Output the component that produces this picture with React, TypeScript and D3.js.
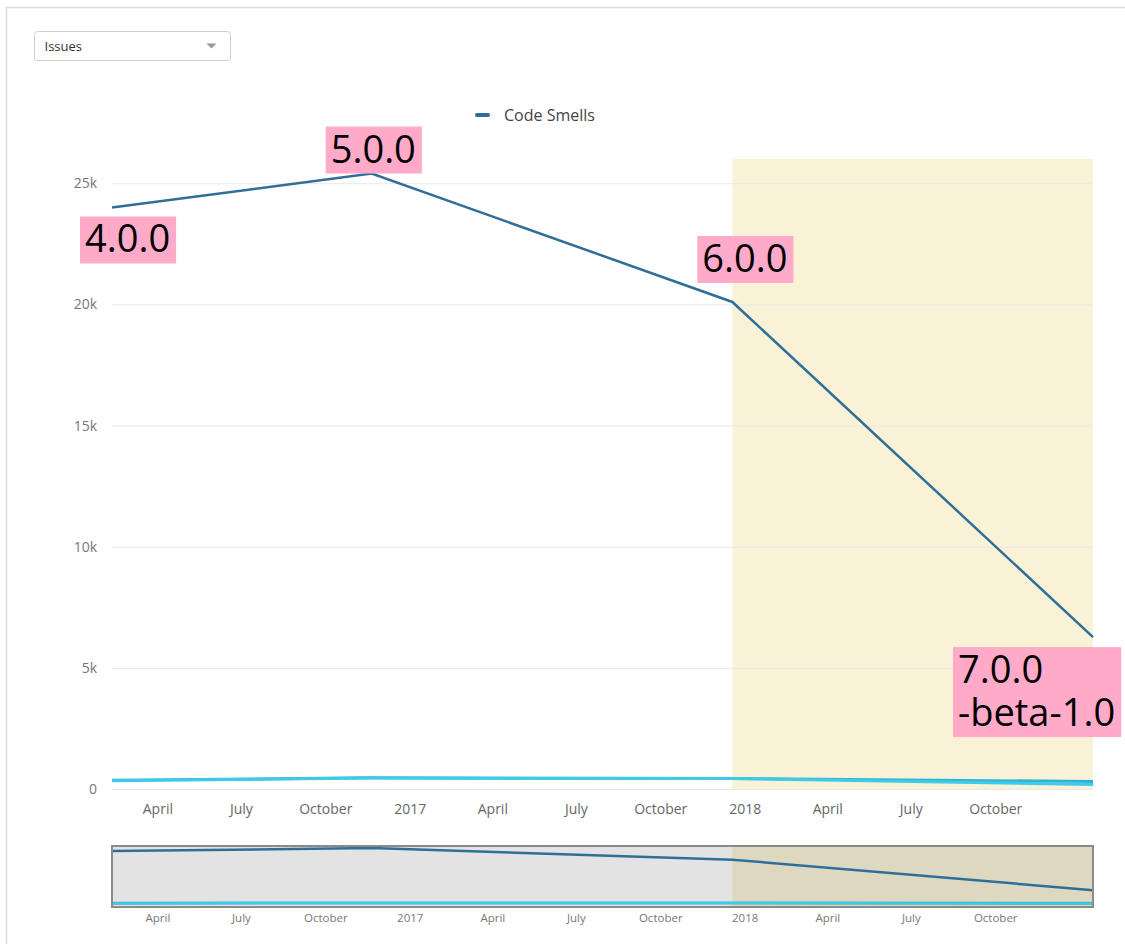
import React, { useRef, useEffect } from "react";
import * as d3 from "d3";

// analysis dates, one per release
const releaseDates = ["2016-02-11", "2016-11-20", "2017-12-18", "2019-01-15"];
const releaseNames = ["4.0.0", "5.0.0", "6.0.0", "7.0.0\n-beta-1.0"];

// issue counts per analysis
const codeSmells = [24000, 25400, 20100, 6270];
const bugs = [360, 460, 430, 310];
const vulnerabilities = [340, 450, 430, 185];

const yTicks = [0, 5000, 10000, 15000, 20000, 25000];
const yMax = 26000;
const highlightFrom = "2017-12-18";
const legendNames = ["Code Smells"];
const metricOptions = ["Issues"];

const App = () => {
    const ref = useRef<SVGSVGElement>(null);

    useEffect(() => {
        const svg = d3.select(ref.current);
        svg.selectAll("*").remove();

        const font = "'Open Sans', 'DejaVu Sans', sans-serif";
        const left = 112, right = 1093, top = 159, bottom = 789;
        const mmTop = 846, mmBottom = 907;

        const parse = d3.timeParse("%Y-%m-%d");
        const dates = releaseDates.map((d) => parse(d) as Date);

        const x = d3.scaleTime()
            .domain([dates[0], dates[dates.length - 1]])
            .range([left, right]);
        const y = d3.scaleLinear().domain([0, yMax]).range([bottom, top]);
        const yMini = d3.scaleLinear()
            .domain([0, d3.max(codeSmells) as number])
            .range([904, 848]);

        const fmt = (d: Date) => d3.timeYear(d) < d ? d3.timeFormat("%B")(d) : d3.timeFormat("%Y")(d);
        // quarterly ticks, the one that would spill past the plot edge is dropped
        const xTicks = x.ticks(d3.timeMonth.every(3) as any).filter((d) => x(d) < right - 20);

        // outer frame
        svg.append("path")
            .attr("d", `M6.5,944 V7.5 H1125`)
            .attr("fill", "none")
            .attr("stroke", "#dcdcdc")
            .attr("stroke-width", 1.5);

        // metric selector
        const dd = svg.append("g").attr("transform", "translate(34.5,31.5)");
        dd.append("rect")
            .attr("width", 196).attr("height", 29).attr("rx", 3)
            .attr("fill", "#fff").attr("stroke", "#cfcfcf");
        dd.append("text")
            .attr("x", 10).attr("y", 19)
            .style("font-family", font).style("font-size", "13px")
            .attr("fill", "#333").text(metricOptions[0]);
        dd.append("path")
            .attr("d", "M172,12 L182,12 L177,17 Z")
            .attr("fill", "#999");

        // legend
        const lg = svg.append("g").attr("transform", "translate(475,115)");
        lg.append("line")
            .attr("x1", 2).attr("x2", 13)
            .attr("stroke", "#2f6f97").attr("stroke-width", 4).attr("stroke-linecap", "round");
        lg.append("text")
            .attr("x", 29).attr("y", 6)
            .style("font-family", font).style("font-size", "16px")
            .attr("fill", "#444").text(legendNames[0]);

        // highlighted period
        const hx = x(parse(highlightFrom) as Date);
        svg.append("rect")
            .attr("x", hx).attr("y", top)
            .attr("width", right - hx).attr("height", bottom - top)
            .attr("fill", "#f9f2d7");

        // grid + y labels
        svg.append("g").selectAll("line")
            .data(yTicks).join("line")
            .attr("x1", left).attr("x2", right)
            .attr("y1", (d) => y(d) + 0.5).attr("y2", (d) => y(d) + 0.5)
            .attr("stroke", "#e8e8e8");
        svg.append("g").selectAll("text")
            .data(yTicks).join("text")
            .attr("x", 97).attr("y", (d) => y(d) + 5)
            .attr("text-anchor", "end")
            .style("font-family", font).style("font-size", "14px")
            .attr("fill", "#777")
            .text((d) => d === 0 ? "0" : d / 1000 + "k");

        // x labels
        svg.append("g").selectAll("text")
            .data(xTicks).join("text")
            .attr("x", (d) => x(d)).attr("y", 814)
            .attr("text-anchor", "middle")
            .style("font-family", font).style("font-size", "14px")
            .attr("fill", "#666")
            .text(fmt);

        const line = (yy: d3.ScaleLinear<number, number>) => d3.line<number>()
            .x((_, i) => x(dates[i]))
            .y((d) => yy(d));

        svg.append("path").datum(bugs)
            .attr("d", line(y)).attr("fill", "none")
            .attr("stroke", "#2ab4da").attr("stroke-width", 3);
        svg.append("path").datum(vulnerabilities)
            .attr("d", line(y)).attr("fill", "none")
            .attr("stroke", "#3fcbe7").attr("stroke-width", 3);
        svg.append("path").datum(codeSmells)
            .attr("d", line(y)).attr("fill", "none")
            .attr("stroke", "#2f6f97").attr("stroke-width", 2.5);

        // release annotations
        const offsets = [[-32, 9], [-46, -47], [-35, -66], [-140, 10]];
        releaseNames.forEach((name, i) => {
            const lines = name.split("\n");
            const g = svg.append("g")
                .attr("transform", `translate(${x(dates[i]) + offsets[i][0]},${y(codeSmells[i]) + offsets[i][1]})`);
            const box = g.append("rect").attr("fill", "#ffaac8");
            const t = g.append("text")
                .style("font-family", font).style("font-size", "38px")
                .attr("fill", "#000");
            lines.forEach((l, j) => {
                t.append("tspan").attr("x", 5).attr("y", 36 + j * 43).text(l);
            });
            const bb = (t.node() as SVGTextElement).getBBox();
            box.attr("width", bb.width + 11).attr("height", lines.length * 43 + 4);
        });

        // navigator
        svg.append("rect")
            .attr("x", left).attr("y", mmTop)
            .attr("width", right - left).attr("height", mmBottom - mmTop)
            .attr("fill", "#e3e3e3");
        svg.append("rect")
            .attr("x", hx).attr("y", mmTop)
            .attr("width", right - hx).attr("height", mmBottom - mmTop)
            .attr("fill", "#ded8c0");
        svg.append("path").datum(bugs)
            .attr("d", line(yMini)).attr("fill", "none")
            .attr("stroke", "#2ab4da").attr("stroke-width", 3);
        svg.append("path").datum(vulnerabilities)
            .attr("d", line(yMini)).attr("fill", "none")
            .attr("stroke", "#3fcbe7").attr("stroke-width", 2);
        svg.append("path").datum(codeSmells)
            .attr("d", line(yMini)).attr("fill", "none")
            .attr("stroke", "#2f6f97").attr("stroke-width", 2.5);
        svg.append("rect")
            .attr("x", left).attr("y", mmTop)
            .attr("width", right - left).attr("height", mmBottom - mmTop)
            .attr("fill", "none").attr("stroke", "#8a8a8a").attr("stroke-width", 2);
        svg.append("g").selectAll("text")
            .data(xTicks).join("text")
            .attr("x", (d) => x(d)).attr("y", 922)
            .attr("text-anchor", "middle")
            .style("font-family", font).style("font-size", "11.5px")
            .attr("fill", "#777")
            .text(fmt);
    }, []);

    return (
        <div style={{ position: "absolute", left: 0, top: 0 }}>
            <svg ref={ref} width={1125} height={944} />
        </div>
    );
};

export default App;
